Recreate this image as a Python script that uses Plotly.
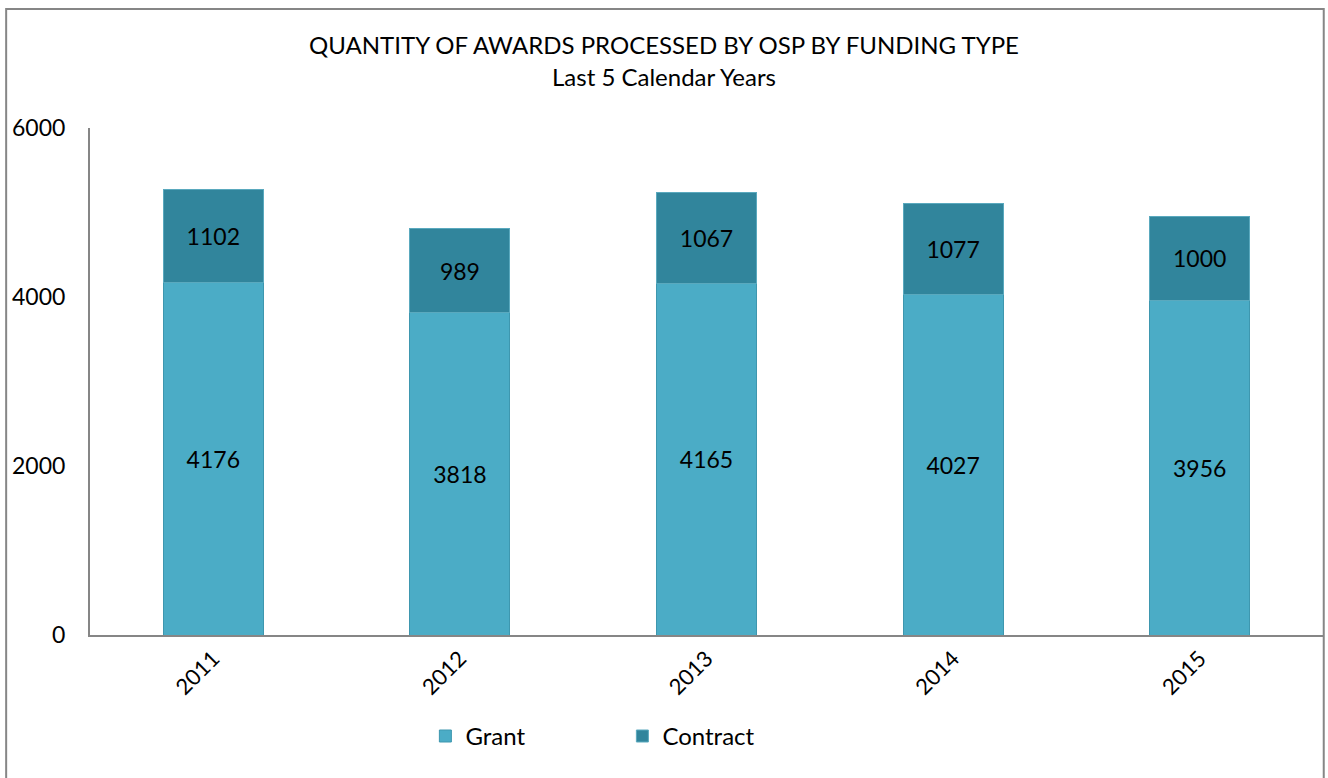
import plotly.graph_objects as go

years = ["2011", "2012", "2013", "2014", "2015"]
grant = [4176, 3818, 4165, 4027, 3956]
contract = [1102, 989, 1067, 1077, 1000]
y_ticks = [0, 2000, 4000, 6000]

FONT = "Lato, Calibri, Noto Sans, sans-serif"

fig = go.Figure()

fig.add_trace(go.Bar(
    name="Grant",
    x=years,
    y=grant,
    marker=dict(color="#4BACC6", line=dict(color="#3E97AF", width=1)),
    text=grant,
    texttemplate="%{text}",
    textposition="inside",
    insidetextanchor="middle",
    textfont=dict(size=23, color="black", family=FONT),
))

fig.add_trace(go.Bar(
    name="Contract",
    x=years,
    y=contract,
    marker=dict(color="#31859C", line=dict(color="#5AA9BE", width=1)),
    text=contract,
    texttemplate="%{text}",
    textposition="inside",
    insidetextanchor="middle",
    textfont=dict(size=23, color="black", family=FONT),
))

# border around the whole chart
fig.add_shape(
    type="rect", xref="paper", yref="paper",
    x0=-0.068, x1=1.0006, y0=-0.35, y1=1.2347,
    line=dict(color="#868686", width=2),
    fillcolor="rgba(0,0,0,0)", layer="below",
)

fig.update_layout(
    width=1328,
    height=778,
    barmode="stack",
    bargap=0.595,
    plot_bgcolor="white",
    paper_bgcolor="white",
    font=dict(family=FONT, size=22, color="black"),
    margin=dict(l=90, r=5, t=128, b=143),
    title=dict(
        text="QUANTITY OF AWARDS PROCESSED BY OSP BY FUNDING TYPE<br>Last 5 Calendar Years",
        x=0.5, xanchor="center",
        yref="container", y=0.93, yanchor="top",
        font=dict(size=24, family=FONT),
    ),
    xaxis=dict(
        showline=True, linecolor="#868686", linewidth=2,
        showgrid=False, ticks="", tickangle=-45,
        tickfont=dict(size=22),
    ),
    yaxis=dict(
        range=[0, 6000], tickvals=y_ticks,
        showline=True, linecolor="#868686", linewidth=2,
        showgrid=False, ticks="", zeroline=False,
        tickfont=dict(size=23),
        ticklabelstandoff=18,
    ),
    legend=dict(
        orientation="h",
        traceorder="normal",
        x=0.272, xanchor="left",
        y=-0.2, yanchor="middle",
        entrywidth=152,
        font=dict(size=24),
    ),
)

fig.write_html("out.html", config={"displayModeBar": False},
               post_script="document.body.style.margin='0';")
